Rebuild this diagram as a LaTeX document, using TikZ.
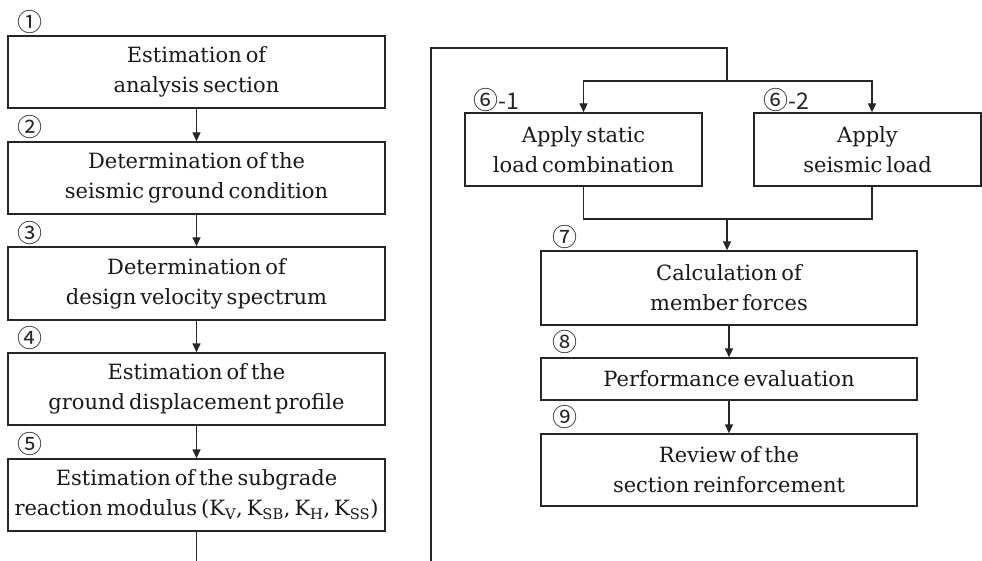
\documentclass[tikz,border=0pt]{standalone}
\usepackage{fontspec}
\setmainfont{DejaVu Serif}[WordSpace=0.6]
\newfontfamily\numfont{Noto Sans CJK KR}
\usetikzlibrary{arrows.meta,calc}
\newcommand{\subnum}[2]{{\fontsize{25}{25}\selectfont #1}{\fontsize{23}{23}\selectfont -#2}}
\begin{document}
\begin{tikzpicture}[x=1pt,y=-1pt,
  box/.style={draw=black!85, line width=1.3pt, fill=white, align=center,
    inner sep=0pt, font=\fontsize{21}{30}\selectfont, text=black!90},
  flow/.style={draw=black!85, line width=1.3pt, -{Triangle[width=8pt,length=9pt]}},
  wire/.style={draw=black!85, line width=1.3pt},
  num/.style={font=\numfont\fontsize{25}{25}\selectfont, inner sep=0pt, text=black!85}]
\useasboundingbox (0,0) rectangle (982,561);

% left column: steps 1-5
\node[box, minimum width=377pt, minimum height=72pt] (b1) at (196.5,72)
  {Estimation of\\analysis section};
\node[box, minimum width=377pt, minimum height=72pt] (b2) at (196.5,178)
  {Determination of the\\seismic ground condition};
\node[box, minimum width=377pt, minimum height=73pt] (b3) at (196.5,283.5)
  {Determination of\\design velocity spectrum};
\node[box, minimum width=377pt, minimum height=72pt] (b4) at (196.5,389)
  {Estimation of the\\ground displacement profile};
\node[box, minimum width=377pt, minimum height=72pt] (b5) at (196.5,495)
  {Estimation of the subgrade\\reaction modulus (K\textsubscript{V}, K\textsubscript{SB}, K\textsubscript{H}, K\textsubscript{SS})};

\node[num] (n1) at (30,22) {①};
\node[num] (n2) at (30,127) {②};
\node[num] (n3) at (30,233) {③};
\node[num] (n4) at (30,338) {④};
\node[num] (n5) at (30,444) {⑤};

\draw[flow] (b1.south) -- (b2.north);
\draw[flow] (b2.south) -- (b3.north);
\draw[flow] (b3.south) -- (b4.north);
\draw[flow] (b4.south) -- (b5.north);
\coordinate (endL) at (196.5,561);
\draw[wire] (b5.south) -- (endL);

% right column: steps 6-9
\node[box, minimum width=237pt, minimum height=73pt] (b61) at (583.5,149.5)
  {Apply static\\load combination};
\node[box, minimum width=227pt, minimum height=73pt] (b62) at (867.5,149.5)
  {Apply\\seismic load};
\node[box, minimum width=376pt, minimum height=74pt] (b7) at (729,288)
  {Calculation of\\member forces};
\node[box, minimum width=376pt, minimum height=42pt] (b8) at (729,379)
  {Performance evaluation};
\node[box, minimum width=376pt, minimum height=72pt] (b9) at (729,470)
  {Review of the\\section reinforcement};

\node[num, anchor=west] (n61) at (473,100) {\subnum{⑥}{1}};
\node[num, anchor=west] (n62) at (763,100) {\subnum{⑥}{2}};
\node[num] (n7) at (565,237) {⑦};
\node[num] (n8) at (565,342) {⑧};
\node[num] (n9) at (565,417) {⑨};

% continuation from the left column
\coordinate (startR) at (431,561);
\coordinate (topL) at (431,48);
\coordinate (topR) at (727,48);
\coordinate (split) at (727,81);
\coordinate (s2) at (872,81);
\draw[wire] (startR) -- (topL) -- (topR) -- (split);
\draw[flow] (split) -| (b61.north);
\draw[flow] (split) -- (s2) -- (s2 |- b62.north);

% merge of the two load cases
\coordinate (jr) at (872,219);
\coordinate (j) at (727,219);
\draw[wire] (b61.south) |- (jr) -- (jr |- b62.south);
\draw[flow] (j) -- (j |- b7.north);
\draw[flow] (b7.south) -- (b8.north);
\draw[flow] (b8.south) -- (b9.north);
\end{tikzpicture}
\end{document}
